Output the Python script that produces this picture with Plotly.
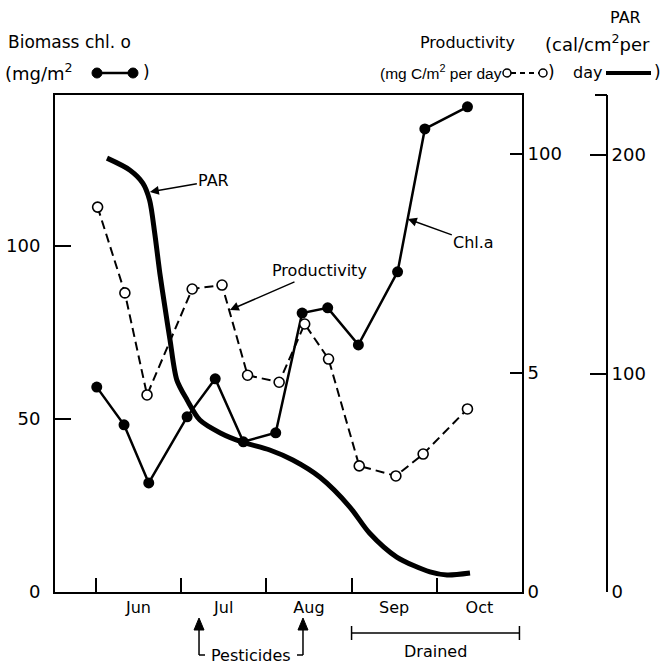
import plotly.graph_objects as go

# ---------------- data ----------------
month_labels = ["Jun", "Jul", "Aug", "Sep", "Oct"]
month_starts = [6, 7, 8, 9, 10]          # month index: 6 = 1 June

chl_x = [6.01, 6.33, 6.62, 7.07, 7.40, 7.73, 8.11, 8.42, 8.72, 9.08, 9.54, 9.86, 10.36]
chl_y = [59.2, 48.3, 31.5, 50.6, 61.6, 43.4, 46.0, 80.6, 82.1, 71.4, 92.5, 133.8, 140.2]

prod_x = [6.02, 6.34, 6.60, 7.13, 7.48, 7.78, 8.15, 8.45, 8.73, 9.09, 9.52, 9.84, 10.36]
prod_y = [8.79, 6.83, 4.50, 6.92, 7.01, 4.95, 4.79, 6.12, 5.32, 2.88, 2.65, 3.15, 4.18]

par_x = [6.13, 6.40, 6.55, 6.63, 6.69, 6.75, 6.81, 6.87, 6.95, 7.07, 7.22, 7.46,
         7.72, 8.04, 8.31, 8.63, 8.98, 9.21, 9.53, 9.92, 10.12, 10.39]
par_y = [198.6, 193.1, 187.2, 179.4, 164.3, 146.0, 130.4, 115.3, 97.0, 87.9, 78.7, 72.8,
         68.6, 65.0, 60.4, 52.5, 38.9, 27.0, 16.0, 9.2, 7.8, 8.7]

pesticide_dates = [7.21, 8.43]
drained_period = [9.0, 10.97]

left_ticks = [0, 50, 100]
prod_ticks = [0, 5, 10]
prod_ticktext = ["0", "5", "100"]
par_ticks = [0, 100, 200]

# ---------------- layout geometry ----------------
W, H = 662, 666
L, R, T, B = 55, 607, 95, 592          # plot region in pixels
X0, X1 = 5.52, 11.0
DOM = (522 - L) / (R - L)
FONT = "DejaVu Sans"
NARROW = "Liberation Sans"


def mx(m):
    return (m - X0) / (X1 - X0) * DOM


def ppx(p):
    return (p - L) / (R - L)


def ppy(p):
    return (B - p) / (B - T)


fig = go.Figure()

fig.add_trace(go.Scatter(
    x=par_x, y=par_y, yaxis="y3", mode="lines",
    line=dict(color="black", width=5, shape="spline", smoothing=0.8),
    hoverinfo="skip"))

fig.add_trace(go.Scatter(
    x=chl_x, y=chl_y, mode="lines+markers",
    line=dict(color="black", width=2.5),
    marker=dict(color="black", size=11)))

fig.add_trace(go.Scatter(
    x=prod_x, y=prod_y, yaxis="y2", mode="lines+markers",
    line=dict(color="black", width=2, dash="9px,5px"),
    marker=dict(color="white", size=10, line=dict(color="black", width=1.6))))

axis_common = dict(showgrid=False, zeroline=False, showline=True, automargin=False,
                   linecolor="black", linewidth=2, tickcolor="black")

fig.update_layout(
    width=W, height=H,
    margin=dict(l=L, r=W - R, t=T, b=H - B, autoexpand=False),
    paper_bgcolor="white", plot_bgcolor="white",
    showlegend=False,
    font=dict(family=FONT, color="black", size=16),
    xaxis=dict(**axis_common, domain=[0, DOM], range=[X0, X1], mirror=True,
               tickvals=[m + 0.5 for m in month_starts], ticktext=month_labels,
               ticks="", tickfont=dict(size=16),
               minor=dict(tickvals=month_starts, ticks="inside", ticklen=14,
                          tickwidth=1.5, tickcolor="black")),
    yaxis=dict(**axis_common, range=[0, 143.6], tickvals=left_ticks,
               ticks="inside", ticklen=16, tickwidth=2, tickfont=dict(size=18),
               ticklabelstandoff=9),
    yaxis2=dict(**axis_common, overlaying="y", side="right", anchor="x",
                range=[0, 11.35], tickvals=prod_ticks, ticktext=prod_ticktext,
                ticks="inside", ticklen=12, tickwidth=2, tickfont=dict(size=18)),
    yaxis3=dict(**axis_common, overlaying="y", side="right", anchor="free",
                position=1.0, range=[0, 227.5], tickvals=par_ticks,
                ticks="inside", ticklen=16, tickwidth=2, tickfont=dict(size=18)),
)

shapes = []
ann = []

# hook at top of PAR axis
shapes.append(dict(type="line", xref="paper", yref="paper", x0=ppx(595), x1=1.0,
                   y0=1.0, y1=1.0, line=dict(color="black", width=2)))


# in-plot labels with arrows
def label(text, x, y, ax, ay, yref="y"):
    ann.append(dict(text=text, x=x, y=y, xref="x", yref=yref, ax=ax, ay=ay,
                    showarrow=True, arrowhead=2, arrowsize=1.2, arrowwidth=1.5,
                    arrowcolor="black", standoff=0, font=dict(size=16)))


label("PAR", 6.633, 115.6, 64, -11)
label("Productivity", 7.572, 81.5, 90, -39)
label("Chl.a", 9.66, 107.8, 66, 24)

# pesticides arrows
tip, base, bot = ppy(618), ppy(630), ppy(655)
hw = 5 / (R - L)
for i, d in enumerate(pesticide_dates):
    xp = mx(d)
    shapes.append(dict(type="line", xref="paper", yref="paper", x0=xp, x1=xp,
                       y0=base, y1=bot, line=dict(color="black", width=1.5)))
    shapes.append(dict(type="path", xref="paper", yref="paper",
                       path=f"M {xp},{tip} L {xp - hw},{base} L {xp + hw},{base} Z",
                       fillcolor="black", line=dict(color="black", width=1)))
    dx = 6 / (R - L) * (1 if i == 0 else -1)
    shapes.append(dict(type="line", xref="paper", yref="paper", x0=xp, x1=xp + dx,
                       y0=bot, y1=bot, line=dict(color="black", width=1.5)))
ann.append(dict(text="Pesticides", x=(mx(pesticide_dates[0]) + mx(pesticide_dates[1])) / 2,
                y=ppy(655), xref="paper", yref="paper", showarrow=False,
                xanchor="center", yanchor="middle", font=dict(size=16)))

# drained bar
yd = ppy(633)
xa, xb = mx(drained_period[0]), mx(drained_period[1])
shapes.append(dict(type="line", xref="paper", yref="paper", x0=xa, x1=xb, y0=yd, y1=yd,
                   line=dict(color="black", width=1.5)))
for xx in (xa, xb):
    shapes.append(dict(type="line", xref="paper", yref="paper", x0=xx, x1=xx,
                       y0=ppy(626), y1=ppy(640), line=dict(color="black", width=1.5)))
ann.append(dict(text="Drained", x=(xa + xb) / 2, y=ppy(651), xref="paper", yref="paper",
                showarrow=False, xanchor="center", yanchor="middle", font=dict(size=16)))


# header / key texts
def txt(text, x, y, anchor="left", size=16, family=FONT):
    ann.append(dict(text=text, x=ppx(x), y=ppy(y), xref="paper", yref="paper",
                    showarrow=False, xanchor=anchor, yanchor="middle",
                    font=dict(size=size, family=family)))


txt("Biomass chl. o", 6, 42, size=17)
txt("(mg/m<sup>2</sup>", 3, 72, size=18)
txt(")", 141, 72, size=17)
txt("Productivity", 467, 43, "center", size=16)
txt("(mg C/m<sup>2</sup> per day", 378, 72, size=15.5, family=NARROW)
txt(")", 546, 72, size=17)
txt("PAR", 625, 18, "center")
txt("(cal/cm<sup>2</sup>per", 543, 43, size=18)
txt("day", 571, 72, size=16)
txt(")", 652, 72, size=17)

# key glyphs
ky = ppy(73)
shapes.append(dict(type="line", xref="paper", yref="paper", x0=ppx(97), x1=ppx(133),
                   y0=ky, y1=ky, line=dict(color="black", width=2.5)))
for cx in (97, 133):
    shapes.append(dict(type="circle", xref="paper", yref="paper", xsizemode="pixel",
                       ysizemode="pixel", xanchor=ppx(cx), yanchor=ky,
                       x0=-5, x1=5, y0=-5, y1=5, fillcolor="black",
                       line=dict(color="black", width=1)))
shapes.append(dict(type="line", xref="paper", yref="paper", x0=ppx(511), x1=ppx(539),
                   y0=ky, y1=ky, line=dict(color="black", width=1.8, dash="5px,4px")))
for cx in (507, 543):
    shapes.append(dict(type="circle", xref="paper", yref="paper", xsizemode="pixel",
                       ysizemode="pixel", xanchor=ppx(cx), yanchor=ky,
                       x0=-4, x1=4, y0=-4, y1=4, fillcolor="white",
                       line=dict(color="black", width=1.5)))
shapes.append(dict(type="line", xref="paper", yref="paper", x0=ppx(606), x1=ppx(651),
                   y0=ky, y1=ky, line=dict(color="black", width=4)))

fig.update_layout(shapes=shapes, annotations=ann)

fig.write_html("out.html", config={"displayModeBar": False},
               post_script="document.body.style.margin='0';")
